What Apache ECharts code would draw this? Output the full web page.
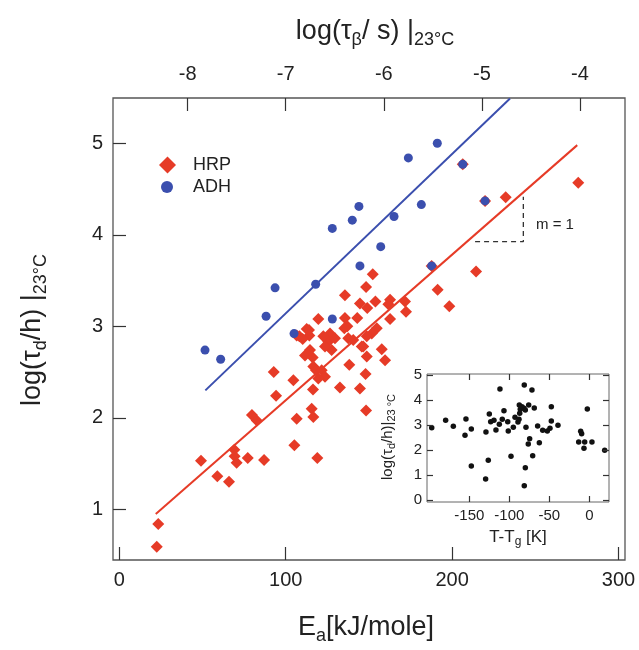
<!DOCTYPE html>
<html lang="en">
<head>
    <meta charset="UTF-8">
    <title>Ea vs log(tau_d)</title>
    <style>
        html, body { margin: 0; padding: 0; background: #fff; }
        #chart { width: 639px; height: 650px; }
    </style>
</head>
<body>
<div id="chart"></div>

<script src="https://cdn.jsdelivr.net/npm/echarts@6.0.0/dist/echarts.min.js"></script>
<script>
    // HRP: [Ea kJ/mole, log(tau_d/h)]
    const hrpPoints = [
        [23.4, 0.84], [22.5, 0.59], [49.1, 1.53], [58.9, 1.36], [65.9, 1.30],
        [69.1, 1.65], [69.3, 1.58], [70.5, 1.51], [77.2, 1.56], [79.7, 2.03],
        [82.6, 1.97], [87.0, 1.54], [92.8, 2.50], [94.2, 2.24], [104.6, 2.41],
        [105.2, 1.70], [106.6, 1.99], [115.6, 2.10], [116.6, 2.01], [119.0, 1.56],
        [116.4, 2.31], [119.6, 3.08], [112.6, 2.97], [114.2, 2.90], [108.2, 2.89],
        [126.6, 2.92], [125.6, 2.83], [129.6, 2.87], [127.6, 2.74], [123.6, 2.78],
        [137.6, 2.87], [140.6, 2.85], [145.7, 2.78], [148.7, 2.67], [157.7, 2.75],
        [159.7, 2.63], [111.6, 2.68], [116.2, 2.66], [114.6, 2.74], [116.6, 2.56],
        [118.2, 2.52], [121.6, 2.52], [123.6, 2.45], [119.6, 2.43], [138.2, 2.58],
        [148.0, 2.48], [132.6, 2.33], [144.6, 2.32], [148.3, 2.08], [135.6, 3.34],
        [144.6, 3.25], [153.9, 3.27], [149.0, 3.20], [162.7, 3.29], [161.7, 3.24],
        [171.7, 3.27], [172.3, 3.16], [135.6, 3.09], [143.0, 3.09], [137.0, 3.00],
        [154.7, 2.98], [151.7, 2.92], [152.3, 3.57], [148.3, 3.43], [206.4, 4.77],
        [219.8, 4.37], [232.2, 4.41], [275.8, 4.57], [214.4, 3.60], [187.7, 3.66],
        [191.3, 3.40], [198.3, 3.22], [162.7, 3.08], [148.7, 2.89], [135.2, 2.98],
        [106.6, 2.90], [110.2, 2.86], [114.0, 2.96], [122.6, 2.89], [146.6, 2.78]
    ];
    const adhPoints = [
        [51.5, 2.74], [60.9, 2.64], [88.2, 3.11], [93.6, 3.42], [105.0, 2.92],
        [118.0, 3.46], [128.0, 4.07], [128.0, 3.08], [140.0, 4.16], [144.0, 4.31],
        [144.6, 3.66], [157.1, 3.87], [165.1, 4.20], [173.7, 4.84], [181.5, 4.33],
        [187.7, 3.66], [191.1, 5.00], [206.4, 4.77], [219.8, 4.37]
    ];
    const hrpFit = [[21.9, 0.95], [275.2, 4.98]];
    const adhFit = [[51.7, 2.30], [234.8, 5.49]];
    const slopeMark = [[213.8, 3.925], [242.8, 3.925], [242.8, 4.416]];

    // inset: [T - Tg (K), log(tau_d/h)]
    const insetPoints = [
        [-197, 2.89], [-179.6, 3.19], [-170, 2.95], [-154.2, 3.24], [-155.4, 2.59],
        [-147.5, 2.84], [-147.5, 1.36], [-129.6, 0.84], [-129.2, 2.72], [-126.3, 1.59],
        [-125, 3.44], [-123.3, 3.13], [-119.2, 3.19], [-116.7, 2.80], [-111.7, 4.44],
        [-112.5, 3.03], [-108.8, 3.23], [-106.7, 3.57], [-102, 3.13], [-101.3, 2.76],
        [-97.9, 1.75], [-95, 2.91], [-92.9, 3.31], [-89.2, 3.12], [-87.9, 3.23],
        [-87.5, 3.80], [-87, 3.47], [-86.3, 3.63], [-84.2, 3.73], [-81.3, 4.60],
        [-81.7, 3.67], [-80, 3.60], [-79.2, 2.91], [-80, 1.29], [-81.3, 0.57],
        [-75.8, 3.80], [-74.6, 2.45], [-76.3, 2.24], [-71.7, 4.40], [-68.8, 3.68],
        [-70.8, 1.77], [-64.6, 2.96], [-62.5, 2.29], [-58.3, 2.79], [-52.5, 2.76],
        [-49.2, 2.87], [-47.5, 3.73], [-47.5, 3.16], [-39.2, 2.99], [-13.3, 2.32],
        [-10.8, 2.75], [-9.6, 2.65], [-5.8, 2.32], [-6.7, 2.07], [-2.5, 3.64],
        [3.3, 2.32], [19.2, 1.99]
    ];

    const xTicks = [0, 100, 200, 300];
    const topTicks = [-8, -7, -6, -5, -4];
    const yTicks = [1, 2, 3, 4, 5];
    const insetXTicks = [-150, -100, -50, 0];
    const insetYTicks = [0, 1, 2, 3, 4, 5];

    const RED = '#e63b27';
    const BLUE = '#3b4fae';
    const FONT = 'Liberation Sans, Arial, sans-serif';
    const frame = '#555';

    // value axis with inward ticks only at the given values
    function tickAxis(opts, ticks, len, fontSize, margin) {
        return Object.assign({
            type: 'value',
            z: 4,
            axisLine: { show: false, onZero: false },
            splitLine: { show: false },
            axisTick: { inside: true, length: len, customValues: ticks, lineStyle: { color: '#333', width: 1.2 } },
            axisLabel: fontSize
                ? { customValues: ticks, margin: margin, color: '#222', fontSize: fontSize, fontFamily: FONT }
                : { show: false }
        }, opts);
    }

    const chart = echarts.init(document.getElementById('chart'));

    // top axis: moved 13px into the plot, ticks drawn upward to the frame
    const topAxis = tickAxis({ gridIndex: 0, min: -8.761, max: -3.541, position: 'top', offset: -13 }, topTicks, 13, 20, 27);
    topAxis.axisTick.inside = false;

    const option = {
        animation: false,
        grid: [
            { left: 113, right: 14, top: 98, bottom: 90, show: true, borderColor: frame, borderWidth: 1.3 },
            { left: 427, right: 30, top: 374, bottom: 148, show: true, borderColor: '#666', borderWidth: 1 }
        ],
        xAxis: [
            tickAxis({ gridIndex: 0, min: -3.8, max: 303.9, position: 'bottom' }, xTicks, 13, 20, 10),
            topAxis,
            tickAxis({ gridIndex: 1, min: -202.9, max: 24.6, position: 'bottom' }, insetXTicks, 6, 15, 6),
            tickAxis({ gridIndex: 1, min: -202.9, max: 24.6, position: 'top' }, insetXTicks, 6, 0, 0)
        ],
        yAxis: [
            tickAxis({ gridIndex: 0, min: 0.446, max: 5.495, position: 'left' }, yTicks, 13, 20, 10),
            tickAxis({ gridIndex: 1, min: -0.08, max: 5.04, position: 'left' }, insetYTicks, 6, 15, 5),
            tickAxis({ gridIndex: 1, min: -0.08, max: 5.04, position: 'right' }, insetYTicks, 6, 0, 0)
        ],
        legend: [
            {
                data: [{ name: 'HRP', icon: 'diamond' }],
                left: 159, top: 156, padding: 0,
                itemWidth: 17, itemHeight: 17,
                textStyle: { fontSize: 18, color: '#222', fontFamily: FONT, padding: [0, 0, 0, 12] }
            },
            {
                data: [{ name: 'ADH', icon: 'circle' }],
                left: 161, top: 178, padding: 0,
                itemWidth: 12, itemHeight: 12,
                textStyle: { fontSize: 18, color: '#222', fontFamily: FONT, padding: [0, 0, 0, 15] }
            }
        ],
        series: [
            {
                name: 'HRP', type: 'scatter', xAxisIndex: 0, yAxisIndex: 0,
                symbol: 'diamond', symbolSize: 12,
                itemStyle: { color: RED, opacity: 1 },
                data: hrpPoints
            },
            {
                name: 'ADH', type: 'scatter', xAxisIndex: 0, yAxisIndex: 0,
                symbol: 'circle', symbolSize: 9,
                itemStyle: { color: BLUE, opacity: 1 },
                data: adhPoints
            },
            {
                name: 'HRP fit', type: 'line', xAxisIndex: 0, yAxisIndex: 0,
                showSymbol: false, lineStyle: { color: RED, width: 2 },
                data: hrpFit
            },
            {
                name: 'ADH fit', type: 'line', xAxisIndex: 0, yAxisIndex: 0,
                showSymbol: false, lineStyle: { color: BLUE, width: 2 },
                data: adhFit
            },
            {
                name: 'slope', type: 'line', xAxisIndex: 0, yAxisIndex: 0,
                showSymbol: false, lineStyle: { color: '#333', width: 1.3, type: [5, 4] },
                data: slopeMark
            },
            {
                name: 'inset', type: 'scatter', xAxisIndex: 2, yAxisIndex: 1,
                symbol: 'circle', symbolSize: 5.5,
                itemStyle: { color: '#111', opacity: 1 },
                data: insetPoints
            }
        ],
        graphic: [
            {
                type: 'text', x: 375, y: 32, z: 10,
                style: {
                    text: 'log(τ{sub|β}/ s) |{sub|23°C}',
                    align: 'center', verticalAlign: 'middle',
                    fontSize: 27, fontFamily: FONT, fill: '#222',
                    rich: { sub: { fontSize: 18, fontFamily: FONT, fill: '#222', padding: [16, 0, 0, 0] } }
                }
            },
            {
                type: 'text', x: 366, y: 628, z: 10,
                style: {
                    text: 'E{sub|a}[kJ/mole]',
                    align: 'center', verticalAlign: 'middle',
                    fontSize: 27, fontFamily: FONT, fill: '#222',
                    rich: { sub: { fontSize: 18, fontFamily: FONT, fill: '#222', padding: [16, 0, 0, 0] } }
                }
            },
            {
                type: 'text', x: 33, y: 330, rotation: Math.PI / 2, z: 10,
                style: {
                    text: 'log(τ{sub|d}/h) |{sub|23°C}',
                    align: 'center', verticalAlign: 'middle',
                    fontSize: 27, fontFamily: FONT, fill: '#222',
                    rich: { sub: { fontSize: 18, fontFamily: FONT, fill: '#222', padding: [16, 0, 0, 0] } }
                }
            },
            {
                type: 'text', x: 536, y: 225, z: 10,
                style: {
                    text: 'm = 1', align: 'left', verticalAlign: 'middle',
                    fontSize: 15, fontFamily: FONT, fill: '#222'
                }
            },
            {
                type: 'text', x: 388, y: 437, rotation: Math.PI / 2, z: 10,
                style: {
                    text: 'log(τ{sub|d}/h)|{sub|23 °C}',
                    align: 'center', verticalAlign: 'middle',
                    fontSize: 15, fontFamily: FONT, fill: '#222',
                    rich: { sub: { fontSize: 11, fontFamily: FONT, fill: '#222', padding: [8, 0, 0, 0] } }
                }
            },
            {
                type: 'text', x: 518, y: 537, z: 10,
                style: {
                    text: 'T-T{sub|g} [K]',
                    align: 'center', verticalAlign: 'middle',
                    fontSize: 17, fontFamily: FONT, fill: '#222',
                    rich: { sub: { fontSize: 12, fontFamily: FONT, fill: '#222', padding: [9, 0, 0, 0] } }
                }
            }
        ]
    };

    chart.setOption(option);
</script>
</body>
</html>
